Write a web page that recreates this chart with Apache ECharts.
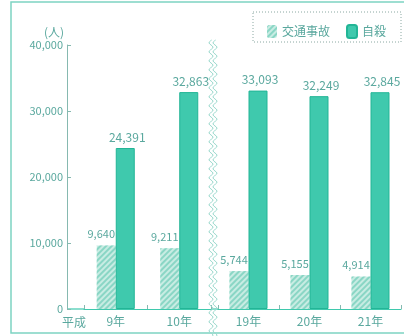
<!DOCTYPE html>
<html><head><meta charset="utf-8">
<script src="https://cdn.jsdelivr.net/npm/echarts@6/dist/echarts.min.js"></script>
<style>html,body{margin:0;padding:0;background:#fff}#c{width:404px;height:336px}</style>
</head><body><div id="c"></div>
<script>
var categories = ['9年','10年','19年','20年','21年'];
var traffic = [9640, 9211, 5744, 5155, 4914];
var suicide = [24391, 32863, 33093, 32249, 32845];
var yTicks = [0, 10000, 20000, 30000, 40000];
var seriesNames = ['交通事故','自殺'];
var splitAt = 2;

var teal = '#3fc9ad', tealDark = '#22b596', pale = '#c8ece3', hatch = '#8ad6c5';
var txt = '#5aa89e', axisCol = '#86b9b0';
var font = '"Noto Sans CJK JP", "Noto Sans", sans-serif';
var fmt = function(v){ return Number(v).toLocaleString('en-US'); };

var decal = { symbol:'rect', symbolSize:1, dashArrayX:[1,0], dashArrayY:[1.5,2], rotation:-Math.PI/4, color:hatch };

function wave(x0){
  var pts=[];
  for(var y=40;y<=336;y+=1){ pts.push([x0+2*Math.sin(y*2*Math.PI/9), y]); }
  return pts;
}

var chart = echarts.init(document.getElementById('c'));
var grids = [
  {left:84, top:45, width:127, bottom:27},
  {left:218, top:45, width:183, bottom:27}
];
function xAx(i, cats){
  return {type:'category', gridIndex:i, data:cats,
    axisLine:{lineStyle:{color:teal, width:1.2}},
    axisTick:{show:true, inside:true, length:4, lineStyle:{color:axisCol}},
    axisLabel:{color:txt, fontSize:12, fontFamily:font, margin:6}};
}
function yAx(i, show){
  return {type:'value', gridIndex:i, min:0, max:40000, interval:10000, show:show,
    offset: show ? 17 : 0,
    name: show ? '(人)' : '', nameGap:7,
    nameTextStyle:{color:txt, fontSize:12, fontFamily:font, align:'right', padding:[0,3,0,0]},
    axisLine:{show:true, lineStyle:{color:axisCol}},
    axisTick:{show:true, length:4, inside:true, lineStyle:{color:axisCol}},
    splitLine:{show:false},
    axisLabel:{color:txt, fontSize:11, fontFamily:font, formatter:fmt, margin:4}};
}
function bar(name, data, gi, isHatch){
  return {name:name, type:'bar', xAxisIndex:gi, yAxisIndex:gi, data:data, barWidth:19, barGap:'0%',
    itemStyle: isHatch ? {color:pale, decal:decal} : {color:teal, borderColor:tealDark, borderWidth:1},
    label:{show:true, position:'top', color:txt, fontSize: isHatch ? 11 : 12, fontFamily:font,
      distance: isHatch ? 6 : 5, offset: isHatch ? [-5,0] : [2,0],
      formatter:function(p){return fmt(p.value);}}};
}

chart.setOption({
  animation:false,
  aria:{enabled:false},
  grid:grids,
  xAxis:[xAx(0, categories.slice(0,splitAt)), xAx(1, categories.slice(splitAt))],
  yAxis:[yAx(0,true), yAx(1,false)],
  legend:{data:seriesNames, left:262, top:19, itemWidth:10, itemHeight:13, itemGap:16,
    textStyle:{color:txt, fontSize:12, fontFamily:font}},
  series:[
    bar(seriesNames[0], traffic.slice(0,splitAt), 0, true),
    bar(seriesNames[1], suicide.slice(0,splitAt), 0, false),
    bar(seriesNames[0], traffic.slice(splitAt), 1, true),
    bar(seriesNames[1], suicide.slice(splitAt), 1, false)
  ],
  graphic:[
    {type:'rect', shape:{x:11, y:2, width:400, height:331}, style:{fill:'none', stroke:'#7ed4c2', lineWidth:1.5}, silent:true},
    {type:'rect', shape:{x:253, y:12, width:148, height:30}, style:{fill:'none', stroke:'#8aa8a2', lineWidth:1, lineDash:[1,2]}, silent:true},
    {type:'line', shape:{x1:67, y1:309, x2:84, y2:309}, style:{stroke:teal, lineWidth:1.2}, silent:true},
    {type:'line', shape:{x1:211, y1:309, x2:218, y2:309}, style:{stroke:teal, lineWidth:1.2}, silent:true},
    {type:'polyline', shape:{points:wave(211)}, style:{stroke:'#9ad8cc', fill:'none', lineWidth:1}, silent:true, z:10},
    {type:'polyline', shape:{points:wave(215)}, style:{stroke:'#9ad8cc', fill:'none', lineWidth:1}, silent:true, z:10},
    {type:'text', left:62, top:316, style:{text:'平成', fill:txt, fontSize:12, fontFamily:font}, silent:true}
  ]
});
</script></body></html>
